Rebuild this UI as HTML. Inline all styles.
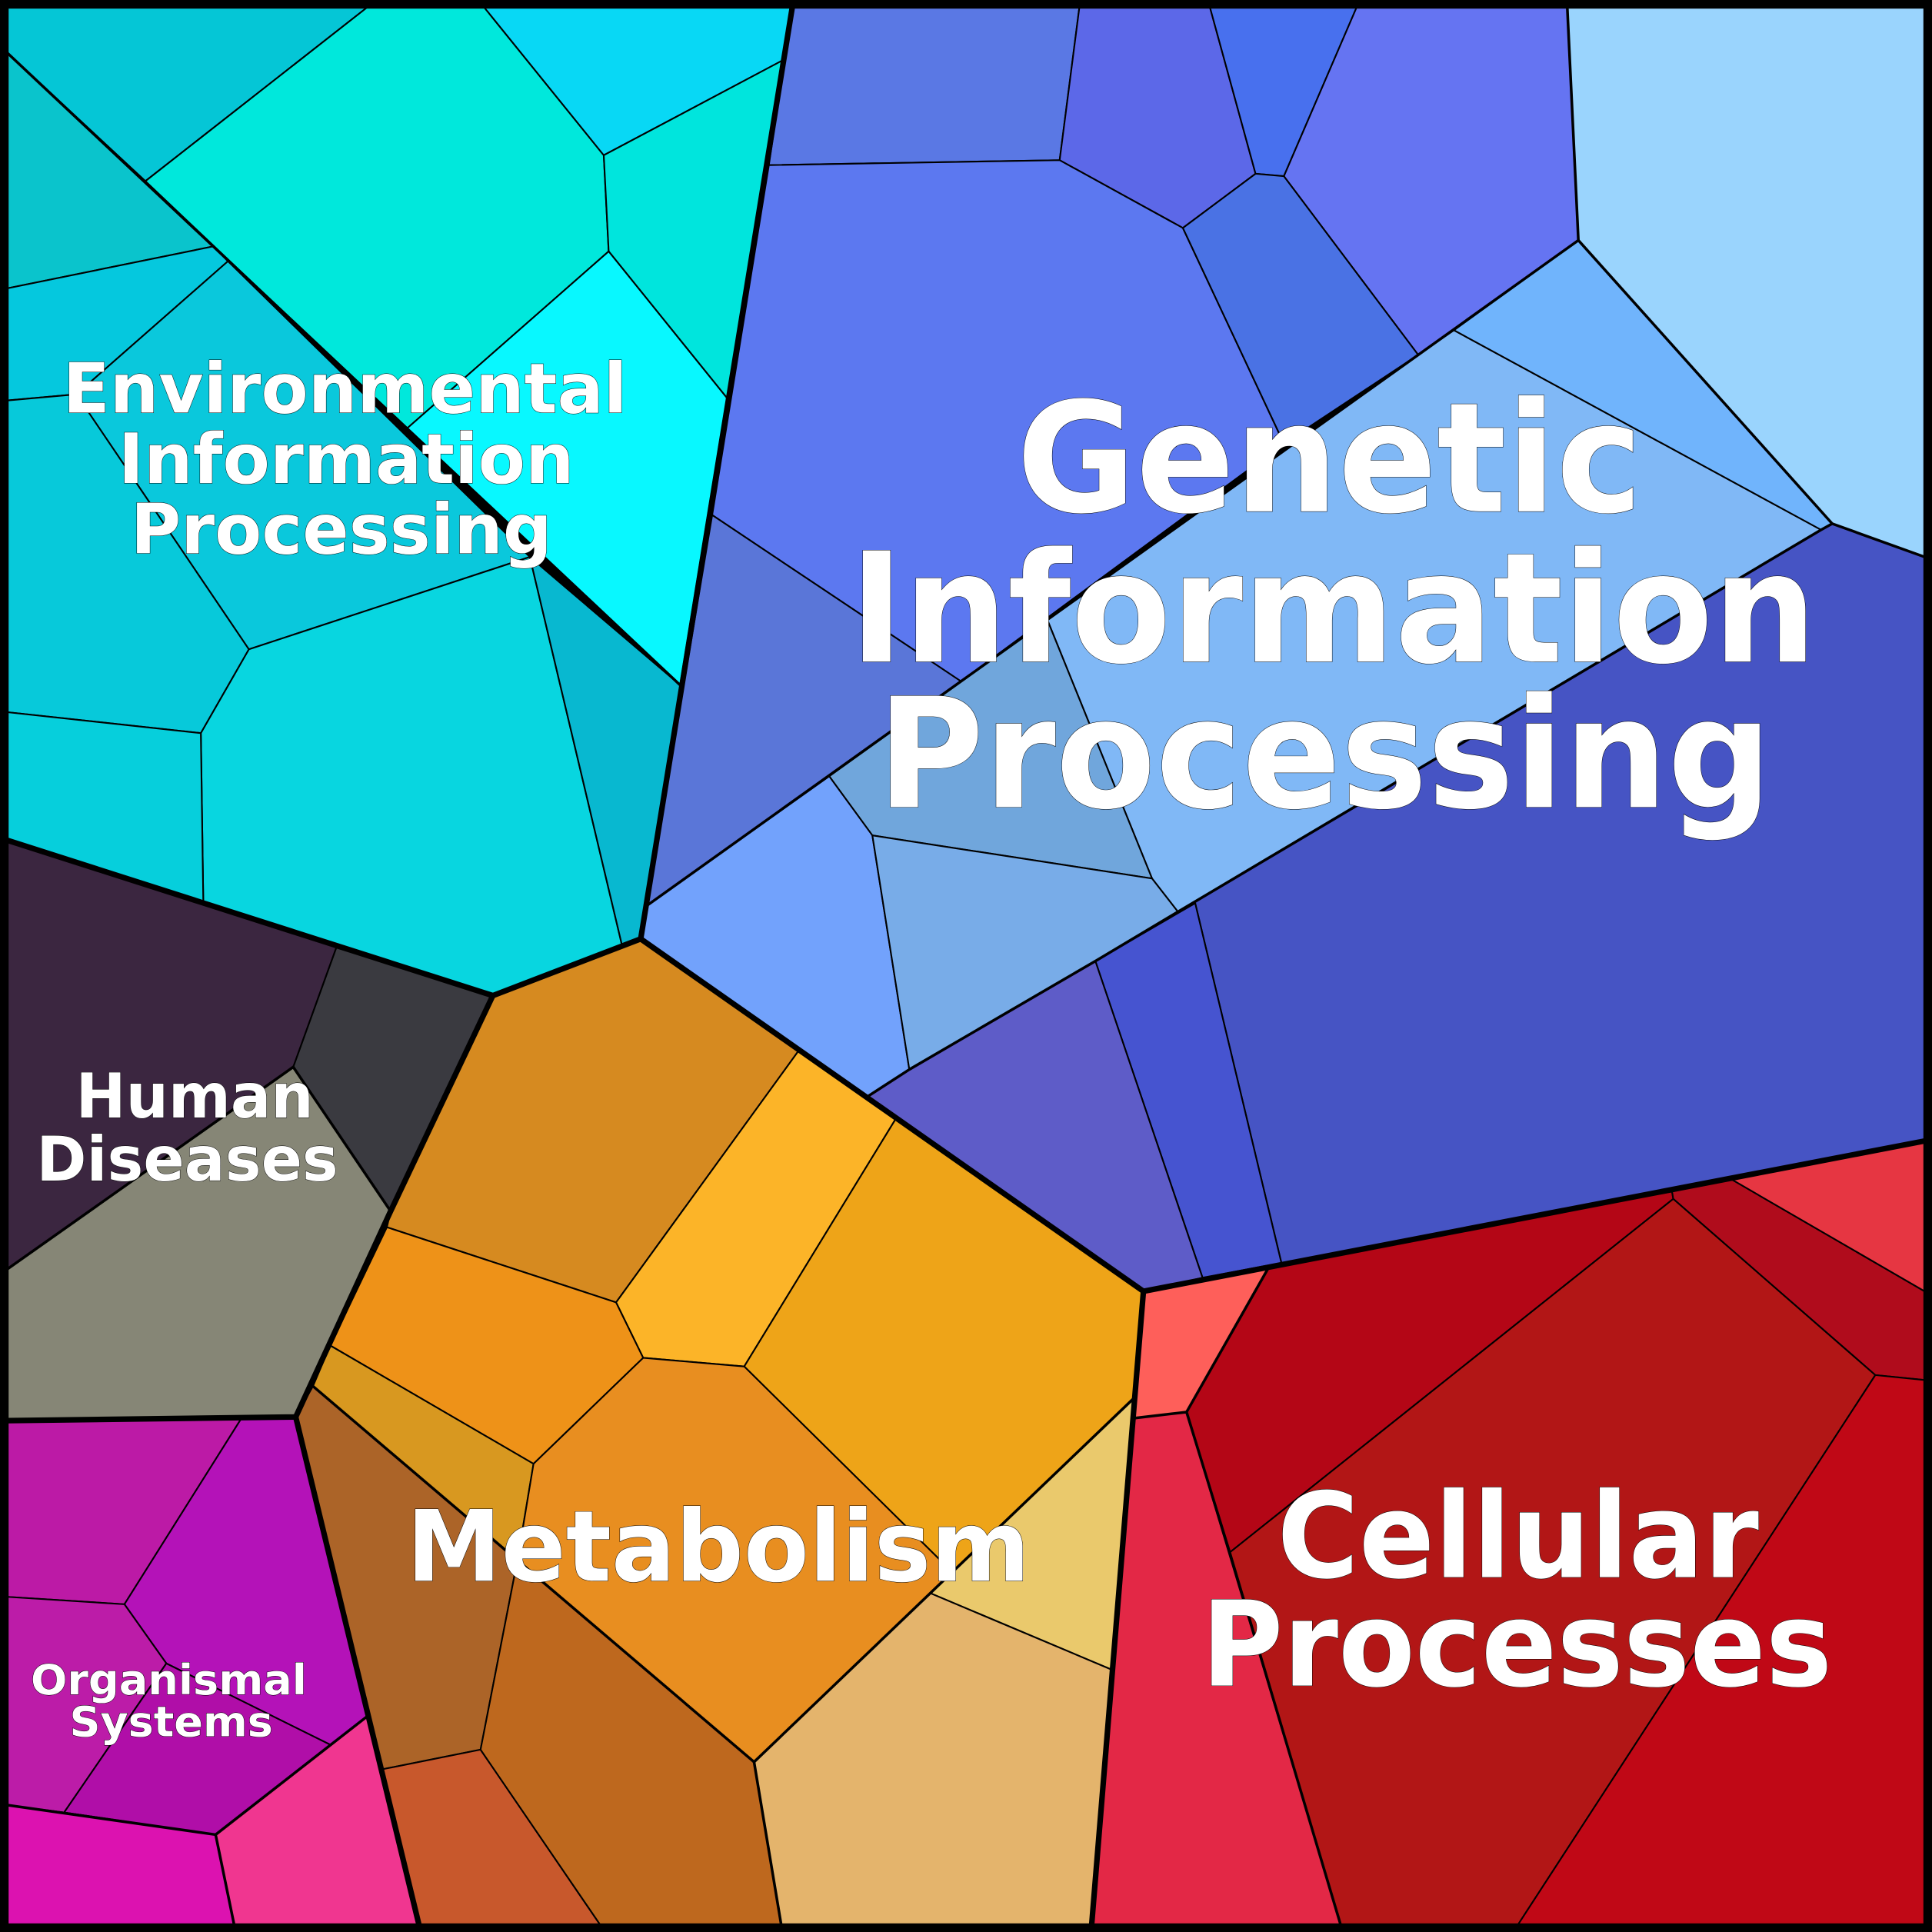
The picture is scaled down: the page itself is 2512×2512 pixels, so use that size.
<!DOCTYPE html>
<html><head><meta charset="utf-8"><style>
html,body{margin:0;padding:0;background:#000;}
svg{display:block;}
text{font-family:"DejaVu Sans","Liberation Sans",sans-serif;font-weight:bold;fill:#fff;stroke:#000;stroke-width:0.6;paint-order:stroke;text-anchor:middle;}
</style></head><body>
<svg width="2512" height="2512" viewBox="0 0 1568 1568" xmlns="http://www.w3.org/2000/svg">
<rect x="0" y="0" width="1568" height="1568" fill="#000"/>
<g stroke="#000" stroke-width="1.3" stroke-linejoin="round">
<polygon fill="#05c6d6" points="6,6 298,6 118,147 6,43"/>
<polygon fill="#0ac4cc" points="6,43 118,147 173,200 6,234"/>
<polygon fill="#00e8dc" points="298,6 393,6 490,126 494,204 330,348 118,147"/>
<polygon fill="#08d8f5" points="393,6 643,6 637,48 490,126"/>
<polygon fill="#00e5dd" points="490,126 637,48 590,323 494,204"/>
<polygon fill="#08f8ff" points="330,348 494,204 590,323 552,556"/>
<polygon fill="#05c8de" points="6,234 173,200 185,212 62,320 6,325"/>
<polygon fill="#0ac8dc" points="185,212 430,452 202,527 62,320"/>
<polygon fill="#07c9da" points="6,325 62,320 202,527 163,595 6,578"/>
<polygon fill="#08d6e0" points="202,527 430,452 505,768 400,808 165,732 163,595"/>
<polygon fill="#08b8d0" points="430,452 552,556 520,762 505,768"/>
<polygon fill="#06cfdc" points="6,578 163,595 165,732 6,682"/>
<polygon fill="#5a78e4" points="643,6 876,6 860,130 624,134"/>
<polygon fill="#5c68e8" points="876,6 982,6 1019,141 960,185 860,130"/>
<polygon fill="#4870ee" points="982,6 1101,6 1042,143 1019,141"/>
<polygon fill="#6574f2" points="1101,6 1272,6 1281,195 1151,288 1042,143"/>
<polygon fill="#9ad4fd" points="1272,6 1562,6 1562,452 1487,425 1281,195"/>
<polygon fill="#5c78f0" points="624,134 860,130 960,185 1042,360 780,553 578,418"/>
<polygon fill="#4a72e4" points="960,185 1019,141 1042,143 1151,288 1042,360"/>
<polygon fill="#5a76d8" points="578,418 780,553 673,630 525,735"/>
<polygon fill="#80b8f6" points="850,503 1151,288 1180,268 1478,430 956,740 935,713"/>
<polygon fill="#70b4fc" points="1180,268 1281,195 1487,425 1478,430"/>
<polygon fill="#70a6dc" points="780,553 850,503 935,713 708,678 673,630"/>
<polygon fill="#72a2fc" points="525,735 673,630 708,678 738,868 704,890 520,762"/>
<polygon fill="#78ace8" points="708,678 935,713 956,740 889,780 738,868"/>
<polygon fill="#4654c4" points="956,740 1478,430 1487,425 1562,452 1562,926 1040,1025 970,733"/>
<polygon fill="#4654d0" points="889,780 970,733 1040,1025 976,1037"/>
<polygon fill="#5e5cc8" points="704,890 738,868 889,780 976,1037 928,1048"/>
<polygon fill="#3b2640" points="6,682 165,732 273,769 238,866 6,1030"/>
<polygon fill="#3a3a40" points="273,769 400,808 317,983 238,866"/>
<polygon fill="#868676" points="6,1030 238,866 317,983 240,1150 6,1153"/>
<polygon fill="#bc1aa6" points="6,1153 196,1151 101,1302 6,1296"/>
<polygon fill="#b412b8" points="196,1151 240,1150 298,1393 268,1416 135,1350 101,1302"/>
<polygon fill="#bc1ca8" points="6,1296 101,1302 135,1350 52,1471 6,1465"/>
<polygon fill="#b00ea8" points="52,1471 135,1350 268,1416 175,1489"/>
<polygon fill="#dc12b0" points="6,1465 52,1471 175,1489 190,1562 6,1562"/>
<polygon fill="#f03690" points="175,1489 298,1393 340,1562 190,1562"/>
<polygon fill="#d68a20" points="317,983 400,808 520,762 648,853 500,1057 314,996"/>
<polygon fill="#fcb428" points="648,853 727,908 604,1109 522,1102 500,1057"/>
<polygon fill="#eea418" points="727,908 928,1048 920,1135 773,1276 604,1109"/>
<polygon fill="#ee9218" points="314,996 500,1057 522,1102 433,1188 268,1092"/>
<polygon fill="#d89820" points="268,1092 433,1188 420,1266 254,1125"/>
<polygon fill="#ac6428" points="240,1150 254,1125 420,1266 390,1420 310,1436"/>
<polygon fill="#c8582c" points="310,1436 390,1420 487,1562 340,1562"/>
<polygon fill="#be681e" points="390,1420 420,1266 612,1430 634,1562 487,1562"/>
<polygon fill="#e88e20" points="433,1188 522,1102 604,1109 773,1276 612,1430 420,1266"/>
<polygon fill="#eac96c" points="773,1276 920,1135 902,1355 755,1293"/>
<polygon fill="#e4b46c" points="755,1293 902,1355 886,1562 634,1562 612,1430"/>
<polygon fill="#fe5f5a" points="928,1048 1030,1028 963,1146 920,1151"/>
<polygon fill="#b40616" points="1030,1028 1357,967 1358,973 998,1260 963,1146"/>
<polygon fill="#b00c1c" points="1357,967 1405,957 1562,1048 1562,1120 1522,1116 1358,973"/>
<polygon fill="#e63642" points="1405,957 1562,926 1562,1048"/>
<polygon fill="#b21616" points="1358,973 1522,1116 1232,1562 1088,1562 998,1260"/>
<polygon fill="#c00816" points="1522,1116 1562,1120 1562,1562 1232,1562"/>
<polygon fill="#e32846" points="920,1151 963,1146 1088,1562 886,1562"/>
</g>
<g stroke="#000" stroke-width="2.2" fill="none" stroke-linejoin="round" stroke-linecap="round">
<polyline points="6,43 552,556"/>
<polyline points="1272,6 1281,195 1487,425 1562,452"/>
<polyline points="1281,195 1151,288 525,735"/>
<polyline points="1487,425 1478,430 956,740 889,780 738,868 704,890"/>
<polyline points="238,866 317,983"/>
<polyline points="6,1030 238,866"/>
<polyline points="254,1125 612,1430 920,1135"/>
<polyline points="612,1430 634,1562"/>
<polyline points="1030,1028 963,1146 998,1260 1088,1562"/>
<polyline points="963,1146 920,1151"/>
<polyline points="6,1465 175,1489 298,1393"/>
<polyline points="175,1489 190,1562"/>
</g>
<g stroke="#000" stroke-width="4.5" fill="none" stroke-linejoin="round" stroke-linecap="round">
<polyline points="643,6 520,762 400,808 6,682"/>
<polyline points="520,762 928,1048 1562,926"/>
<polyline points="928,1048 886,1562"/>
<polyline points="400,808 317,983 240,1150 6,1153"/>
<polyline points="240,1150 340,1562"/>
</g>
<rect x="3.5" y="3.5" width="1561" height="1561" fill="none" stroke="#000" stroke-width="7"/>
<text x="280" y="335" font-size="56" textLength="458" lengthAdjust="spacingAndGlyphs">Environmental</text>
<text x="281" y="392" font-size="56" textLength="370" lengthAdjust="spacingAndGlyphs">Information</text>
<text x="277" y="449" font-size="56" textLength="342" lengthAdjust="spacingAndGlyphs">Processing</text>
<text x="1079" y="415" font-size="124" textLength="508" lengthAdjust="spacingAndGlyphs">Genetic</text>
<text x="1082" y="537" font-size="124" textLength="785" lengthAdjust="spacingAndGlyphs">Information</text>
<text x="1075" y="655" font-size="124" textLength="726" lengthAdjust="spacingAndGlyphs">Processing</text>
<text x="158" y="907" font-size="50" textLength="193" lengthAdjust="spacingAndGlyphs">Human</text>
<text x="152" y="958" font-size="50" textLength="245" lengthAdjust="spacingAndGlyphs">Diseases</text>
<text x="137" y="1375" font-size="34" textLength="224" lengthAdjust="spacingAndGlyphs">Organismal</text>
<text x="139" y="1409" font-size="34" textLength="165" lengthAdjust="spacingAndGlyphs">Systems</text>
<text x="583" y="1283" font-size="80" textLength="506" lengthAdjust="spacingAndGlyphs">Metabolism</text>
<text x="1232" y="1280" font-size="96" textLength="391" lengthAdjust="spacingAndGlyphs">Cellular</text>
<text x="1231" y="1368" font-size="96" textLength="512" lengthAdjust="spacingAndGlyphs">Processes</text>
</svg>
</body></html>
